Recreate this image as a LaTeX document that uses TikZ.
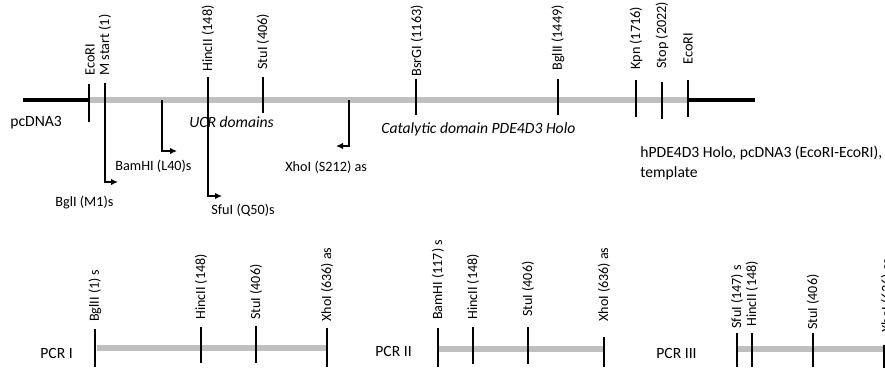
\documentclass[tikz,border=0pt]{standalone}
\usepackage{fontspec}
\setmainfont{Carlito}
\usepackage{tikz}
\usetikzlibrary{arrows.meta}
\colorlet{insertgray}{black!25}

\begin{document}
\begin{tikzpicture}[x=0.2mm, y=-0.2mm,
  cut/.style={line width=0.4mm},
  primer/.style={line width=0.4mm, -{Latex[length=1.4mm,width=1.3mm]}},
  site/.style={rotate=90, anchor=west, inner sep=0pt, font=\fontsize{8.1}{9.7}\selectfont},
  pcrsite/.style={site, font=\fontsize{8}{9.6}\selectfont},
  lab/.style={anchor=west, inner sep=0pt, font=\fontsize{8.9}{10.7}\selectfont},
  plab/.style={anchor=west, inner sep=0pt, font=\fontsize{8.1}{9.7}\selectfont}]
  \useasboundingbox (0,0) rectangle (885,368);
  \clip (0,0) rectangle (885,368);

  % template: pcDNA3 with the insert
  \draw[line width=0.7mm] (23,100) -- (89,100);
  \draw[line width=0.7mm] (688,100) -- (755,100);
  \draw[line width=1.2mm, insertgray] (89,100) -- (688,100);
  \draw[cut] (89,84) -- (89,122);   \node[site] (ecoL) at (90,76) {EcoRI};
  \draw[primer] (105,83) -- (105,182) -- (118,182);
  \node[site] (mstart) at (105,76) {M start (1)};
  \draw[primer] (162,100) -- (162,151) -- (177,151);
  \draw[primer] (208,77) -- (208,196) -- (222,196);
  \node[site] (hinc) at (208,72) {HincII (148)};
  \draw[cut] (263,77) -- (263,113); \node[site] (stu) at (263,70) {StuI (406)};
  \draw[primer] (349,100) -- (349,146) -- (336,146);
  \draw[cut] (416,79) -- (416,115); \node[site] (bsrg) at (417,77) {BsrGI (1163)};
  \draw[cut] (558,79) -- (558,115); \node[site] (bgl) at (558,71) {BglII (1449)};
  \draw[cut] (636,80) -- (636,117); \node[site] (kpn) at (636,70) {Kpn (1716)};
  \draw[cut] (662,82) -- (662,119); \node[site] (stop) at (662,69) {Stop (2022)};
  \draw[cut] (688,80) -- (688,117); \node[site] (ecoR) at (688,65) {EcoRI};

  \node[lab] (vec) at (10,123) {pcDNA3};
  \node[lab] (ucr) at (189,122) {\itshape UCR domains};
  \node[lab] (cat) at (381,129) {\itshape Catalytic domain PDE4D3 Holo};
  \node[lab, anchor=north west, align=left, font=\fontsize{8.9}{11.4}\selectfont] (tmpl) at (640,146)
       {hPDE4D3 Holo, pcDNA3 (EcoRI-EcoRI),\\ template};
  \node[plab] (pM1) at (55,203) {BglI (M1)s};
  \node[plab] (pL40) at (115,166) {BamHI (L40)s};
  \node[plab] (pQ50) at (211,210) {SfuI (Q50)s};
  \node[plab] (pS212) at (285,167) {XhoI (S212) as};

  % PCR I
  \node[lab] (pcr1) at (40,353) {PCR I};
  \draw[line width=1.2mm, insertgray] (97,348) -- (327,348);
  \draw[cut] (95,329) -- (95,367);  \node[pcrsite] at (95,322) {BglII (1) s};
  \draw[cut] (201,327) -- (201,363); \node[pcrsite] at (201,320) {HincII (148)};
  \draw[cut] (256,326) -- (256,363); \node[pcrsite] at (256,320) {StuI (406)};
  \draw[cut] (327,328) -- (327,367); \node[pcrsite] at (327,322) {XhoI (636) as};

  % PCR II
  \node[lab] (pcr2) at (375,351) {PCR II};
  \draw[line width=1.2mm, insertgray] (438,349) -- (603,349);
  \draw[cut] (438,328) -- (438,367); \node[pcrsite] at (438,320) {BamHI (117) s};
  \draw[cut] (473,327) -- (473,364); \node[pcrsite] at (473,320) {HincII (148)};
  \draw[cut] (528,327) -- (528,364); \node[pcrsite] at (528,317) {StuI (406)};
  \draw[cut] (604,337) -- (604,367); \node[pcrsite] at (604,322) {XhoI (636) as};

  % PCR III
  \node[lab] (pcr3) at (656,353) {PCR III};
  \draw[line width=1.2mm, insertgray] (737,349) -- (885,349);
  \draw[cut] (737,333) -- (737,367); \node[pcrsite] at (737,329) {SfuI (147) s};
  \draw[cut] (752,333) -- (752,367); \node[pcrsite] at (752,327) {HincII (148)};
  \draw[cut] (813,333) -- (813,367); \node[pcrsite] at (813,330) {StuI (406)};
  \draw[cut] (884,345) -- (884,368); \node[pcrsite] at (887,333) {XhoI (636) as};
\end{tikzpicture}
\end{document}
